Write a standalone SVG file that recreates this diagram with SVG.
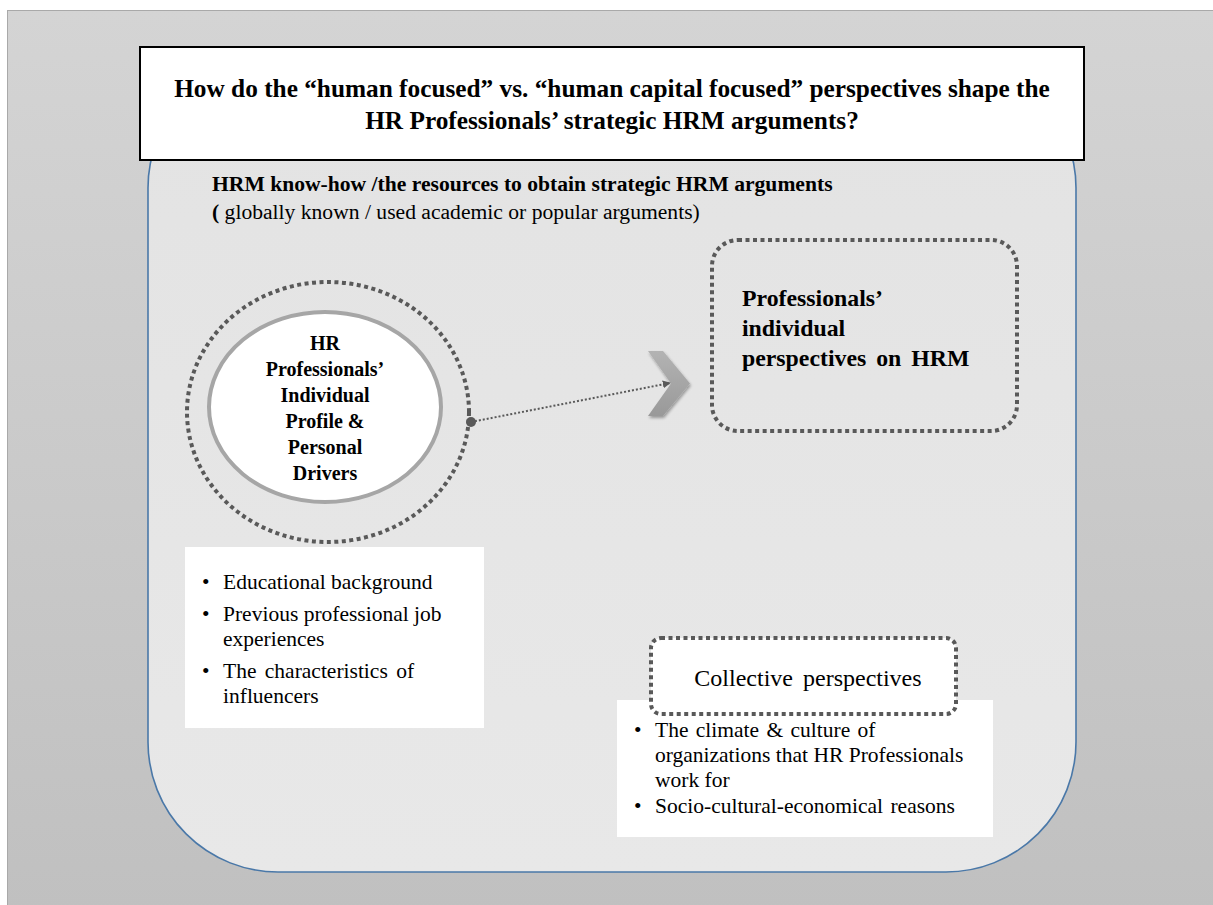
<svg xmlns="http://www.w3.org/2000/svg" width="1213" height="905" viewBox="0 0 1213 905">
  <defs>
    <linearGradient id="bgGrad" x1="0" y1="0" x2="0" y2="1">
      <stop offset="0" stop-color="#d4d4d4"/>
      <stop offset="1" stop-color="#c0c0c0"/>
    </linearGradient>
    <linearGradient id="panelGrad" x1="0" y1="0" x2="0" y2="1">
      <stop offset="0" stop-color="#e3e3e3"/>
      <stop offset="1" stop-color="#e8e8e8"/>
    </linearGradient>
    <linearGradient id="chevGrad" x1="0" y1="0" x2="0" y2="1">
      <stop offset="0" stop-color="#b3b3b3"/>
      <stop offset="1" stop-color="#999999"/>
    </linearGradient>
    <filter id="softShadow" x="-30%" y="-30%" width="160%" height="160%">
      <feGaussianBlur in="SourceAlpha" stdDeviation="1.5"/>
      <feOffset dx="1" dy="2" result="b"/>
      <feComponentTransfer><feFuncA type="linear" slope="0.35"/></feComponentTransfer>
      <feMerge><feMergeNode/><feMergeNode in="SourceGraphic"/></feMerge>
    </filter>
    <marker id="tip" viewBox="0 0 10 10" refX="9" refY="5" markerWidth="4" markerHeight="4" orient="auto">
      <path d="M0,0 L10,5 L0,10 z" fill="#595959"/>
    </marker>
  </defs>
  <style>
    .serif { font-family: "Liberation Serif", "Times New Roman", serif; fill: #000; }
    .b { font-weight: bold; }
    .dots { fill: none; stroke: #595959; stroke-width: 4; stroke-dasharray: 4 3.5; }
    .body { font-size: 21.5px; }
  </style>

  <!-- slide background -->
  <rect x="7.5" y="10.5" width="1210" height="900" fill="url(#bgGrad)" stroke="#a9a9a9" stroke-width="1"/>

  <!-- main rounded panel -->
  <g id="panel">
    <rect x="148" y="58" width="928" height="814" rx="130" ry="130" fill="url(#panelGrad)" stroke="#4a78a8" stroke-width="1.6"/>
  </g>

  <!-- question box -->
  <g id="question">
    <rect x="140" y="47" width="944" height="113" fill="#ffffff" stroke="#000" stroke-width="2"/>
    <text class="serif b" font-size="25.3" x="612" y="97" text-anchor="middle">How do the “human focused” vs. “human capital focused” perspectives shape the</text>
    <text class="serif b" font-size="25.3" x="612" y="129" text-anchor="middle">HR Professionals’ strategic HRM arguments?</text>
  </g>

  <!-- know-how heading -->
  <g id="knowhow">
    <text class="serif b" font-size="21.6" x="212" y="191">HRM know-how /the resources to obtain strategic HRM arguments</text>
    <text class="serif" font-size="21.6" x="212" y="219"><tspan font-weight="bold">(</tspan> globally known / used academic or popular arguments)</text>
  </g>

  <!-- connector -->
  <g id="connectors">
    <path d="M648,351 L663,351 L690,383.5 L663,416 L648,416 L671,383.5 Z" fill="url(#chevGrad)" filter="url(#softShadow)"/>
    <line x1="471" y1="422" x2="670" y2="383" stroke="#595959" stroke-width="2" stroke-dasharray="2 2" marker-end="url(#tip)"/>
    <circle cx="471" cy="422" r="5" fill="#595959"/>
  </g>

  <!-- individual profile node -->
  <g id="profile">
    <ellipse cx="328" cy="412" rx="141" ry="130" class="dots"/>
    <ellipse cx="325" cy="407" rx="116" ry="95" fill="#ffffff" stroke="#a6a6a6" stroke-width="4"/>
    <g class="serif b" font-size="20" text-anchor="middle">
      <text x="325" y="350">HR</text>
      <text x="325" y="376">Professionals’</text>
      <text x="325" y="402">Individual</text>
      <text x="325" y="428">Profile &amp;</text>
      <text x="325" y="454">Personal</text>
      <text x="325" y="480">Drivers</text>
    </g>
    <rect x="185" y="547" width="299" height="181" fill="#ffffff"/>
    <g class="serif body">
      <text x="202" y="589">•</text>
      <text x="223" y="589">Educational background</text>
      <text x="202" y="621">•</text>
      <text x="223" y="621">Previous professional job</text>
      <text x="223" y="646">experiences</text>
      <text x="202" y="678">•</text>
      <text x="223" y="678" word-spacing="3">The characteristics of</text>
      <text x="223" y="703">influencers</text>
    </g>
  </g>

  <!-- individual perspectives node -->
  <g id="individual">
    <rect x="712" y="240" width="305" height="191" rx="26" ry="26" class="dots"/>
    <g class="serif b" font-size="23.8" word-spacing="4">
      <text x="742" y="306">Professionals’</text>
      <text x="742" y="336">individual</text>
      <text x="742" y="366">perspectives on HRM</text>
    </g>
  </g>

  <!-- collective perspectives node -->
  <g id="collective">
    <rect x="617" y="700" width="376" height="137" fill="#ffffff"/>
    <rect x="651" y="638" width="305" height="76" rx="10" ry="10" fill="#ffffff" class="dots" style="fill:#ffffff"/>
    <text class="serif" font-size="24" x="808" y="686" text-anchor="middle" word-spacing="4">Collective perspectives</text>
    <g class="serif body">
      <text x="634" y="737">•</text>
      <text x="655" y="737" word-spacing="2">The climate &amp; culture of</text>
      <text x="655" y="762">organizations that HR Professionals</text>
      <text x="655" y="787">work for</text>
      <text x="634" y="813">•</text>
      <text x="655" y="813" word-spacing="2">Socio-cultural-economical reasons</text>
    </g>
  </g>
</svg>
